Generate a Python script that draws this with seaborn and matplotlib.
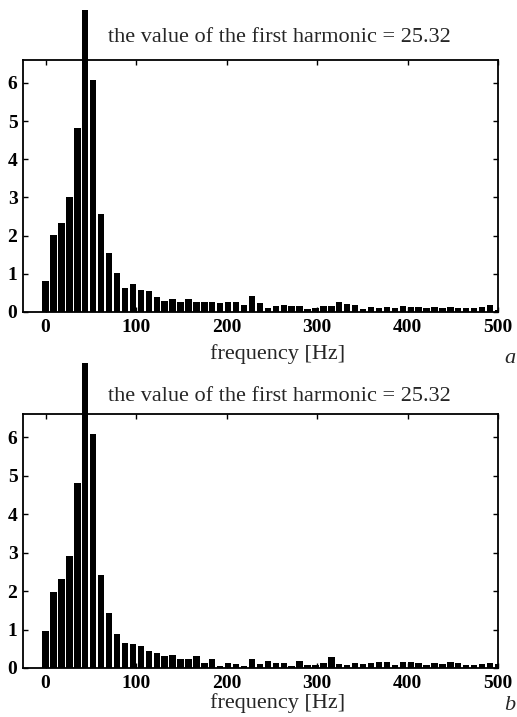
import numpy as np
import pandas as pd
import seaborn as sns
import matplotlib
matplotlib.use("Agg")
import matplotlib.pyplot as plt
from matplotlib.patches import Rectangle

# frequency bins (Hz) - 58 bins spaced 500/57 Hz
freqs = np.arange(58) * 500 / 57

amp_a = [0.82, 2.01, 2.33, 3.00, 4.81, 25.32, 6.07, 2.57, 1.54, 1.01,
         0.62, 0.74, 0.58, 0.55, 0.38, 0.30, 0.35, 0.27, 0.35, 0.27,
         0.27, 0.27, 0.23, 0.26, 0.26, 0.18, 0.42, 0.23, 0.10, 0.15,
         0.18, 0.15, 0.15, 0.09, 0.10, 0.15, 0.15, 0.26, 0.20, 0.18,
         0.09, 0.13, 0.10, 0.13, 0.10, 0.15, 0.13, 0.13, 0.10, 0.13,
         0.10, 0.13, 0.10, 0.10, 0.10, 0.13, 0.18, 0.04]

amp_b = [0.95, 1.98, 2.32, 2.90, 4.82, 25.32, 6.08, 2.42, 1.42, 0.88,
         0.65, 0.62, 0.58, 0.43, 0.38, 0.32, 0.35, 0.24, 0.24, 0.32,
         0.13, 0.24, 0.05, 0.12, 0.10, 0.06, 0.24, 0.10, 0.17, 0.13,
         0.13, 0.06, 0.17, 0.09, 0.08, 0.13, 0.28, 0.10, 0.08, 0.13,
         0.10, 0.13, 0.15, 0.15, 0.08, 0.15, 0.15, 0.13, 0.09, 0.13,
         0.10, 0.15, 0.13, 0.08, 0.08, 0.10, 0.13, 0.10]

first_harmonic = 25.32
xticks = [0, 100, 200, 300, 400, 500]
yticks = [0, 1, 2, 3, 4, 5, 6]

sns.set_style("ticks")
plt.rcParams['font.family'] = ['Liberation Serif', 'DejaVu Serif']

W, H = 517, 717
fig = plt.figure(figsize=(W / 100, H / 100), dpi=100)

panels = [
    # data, axes box (px: left, top, right, bottom), title y, xlabel y, letter, letter y
    (amp_a, (23, 60, 498, 312), 37, 354, 'a', 358),
    (amp_b, (23, 414, 498, 668), 397, 703, 'b', 705),
]

for amps, (l, t, r, b), title_y, xlab_y, letter, letter_y in panels:
    ax = fig.add_axes([l / W, 1 - b / H, (r - l) / W, (b - t) / H])
    df = pd.DataFrame({'freq': freqs, 'amp': amps})
    sns.barplot(data=df, x='freq', y='amp', native_scale=True, color='black',
                saturation=1, width=0.8, edgecolor='none', linewidth=0, ax=ax)
    ax.set_xlim(-25, 500)
    ax.set_ylim(0, 6.6)
    ax.set_xticks(xticks)
    ax.set_yticks(yticks)
    ax.set_xlabel('')
    ax.set_ylabel('')
    ax.tick_params(direction='in', top=True, right=True, length=3.5,
                   width=1.0, labelsize=14, pad=5, color='black',
                   labelcolor='black')
    ax.tick_params(axis='y', pad=4)
    for lab in ax.get_xticklabels() + ax.get_yticklabels():
        lab.set_fontweight('bold')
    for s in ax.spines.values():
        s.set_linewidth(1.3)
        s.set_color('black')
    # the first harmonic bar sticks out above the axes
    for p in ax.patches:
        if p.get_height() > 6.6:
            p.set_clip_path(Rectangle((0, 0), 1, 1.2, transform=ax.transAxes))

    fig.text(279 / W, 1 - title_y / H,
             'the value of the first harmonic = %.2f' % first_harmonic,
             ha='center', va='center', fontsize=16)
    fig.text(278 / W, 1 - xlab_y / H, 'frequency [Hz]',
             ha='center', va='center', fontsize=16)
    fig.text(510 / W, 1 - letter_y / H, letter, ha='center', va='center',
             fontsize=16, style='italic')

fig.savefig('out.png', dpi=100, facecolor='white')
